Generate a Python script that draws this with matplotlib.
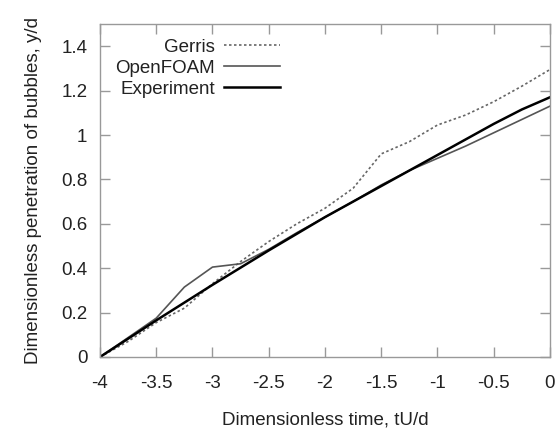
import matplotlib
matplotlib.use("Agg")
import matplotlib.pyplot as plt

plt.rcParams['font.family'] = ['Liberation Sans', 'DejaVu Sans']

# Data
gerris_t = [-4, -3.75, -3.5, -3.25, -3, -2.75, -2.5, -2.25, -2, -1.75, -1.5, -1.25, -1, -0.75, -0.5, -0.25, 0]
gerris_y = [0, 0.07, 0.155, 0.22, 0.33, 0.43, 0.52, 0.6, 0.67, 0.76, 0.915, 0.97, 1.045, 1.09, 1.15, 1.22, 1.295]

openfoam_t = [-4, -3.5, -3.25, -3, -2.75, -2.5, -2.25, -2, -1.75, -1.5, -1.25, -1, -0.75, -0.5, -0.25, 0]
openfoam_y = [0, 0.175, 0.315, 0.405, 0.42, 0.485, 0.56, 0.63, 0.7, 0.775, 0.84, 0.895, 0.95, 1.01, 1.07, 1.13]

exp_t = [-4, -3.5, -3, -2.5, -2, -1.5, -1, -0.5, -0.25, 0]
exp_y = [0, 0.165, 0.325, 0.48, 0.63, 0.77, 0.91, 1.05, 1.115, 1.17]

xticks = [-4, -3.5, -3, -2.5, -2, -1.5, -1, -0.5, 0]
xtick_labels = ['-4', '-3.5', '-3', '-2.5', '-2', '-1.5', '-1', '-0.5', '0']
yticks = [0, 0.2, 0.4, 0.6, 0.8, 1.0, 1.2, 1.4]
ytick_labels = ['0', '0.2', '0.4', '0.6', '0.8', '1', '1.2', '1.4']

fig = plt.figure(figsize=(5.57, 4.28), dpi=100)
ax = fig.add_axes([0.1795, 0.1659, 0.8079, 0.778])

ax.plot(gerris_t, gerris_y, color='#666666', lw=1.2, linestyle=(0, (1.5, 1.5)), label='Gerris')
ax.plot(openfoam_t, openfoam_y, color='#555555', lw=1.2, label='OpenFOAM')
ax.plot(exp_t, exp_y, color='black', lw=1.8, label='Experiment')

ax.set_xlim(-4, 0)
ax.set_ylim(0, 1.5)
ax.set_xticks(xticks)
ax.set_xticklabels(xtick_labels)
ax.set_yticks(yticks)
ax.set_yticklabels(ytick_labels)

for s in ax.spines.values():
    s.set_color('#999999')
    s.set_linewidth(1.0)
ax.tick_params(direction='in', length=7, width=1.0, color='#999999',
               top=True, right=True, labelsize=13.5, colors='#222222')
ax.tick_params(axis='x', pad=13)
ax.tick_params(axis='y', pad=9)
ax.tick_params(color='#999999')

ax.set_xlabel('Dimensionless time, tU/d', fontsize=13.5, color='#222222', labelpad=14)
ax.set_ylabel('Dimensionless penetration of bubbles, y/d', fontsize=13.5, color='#222222', labelpad=14)

ax.legend(loc='upper right', bbox_to_anchor=(0.43, 0.995), frameon=False,
          markerfirst=False, fontsize=13.5, handlelength=3.0, handletextpad=0.5,
          labelspacing=0.2, borderpad=0.2, labelcolor='#222222')

fig.savefig('out.png', dpi=100)
